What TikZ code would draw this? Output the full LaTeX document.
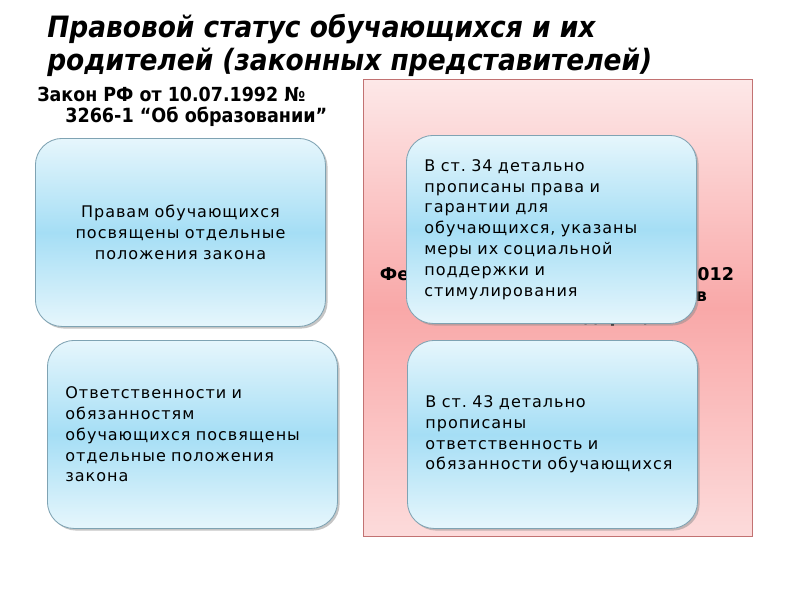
\documentclass[tikz,border=0pt]{standalone}
\usepackage{fontspec}
\setmainfont{DejaVu Sans}
\newfontfamily\condfont{DejaVu Sans Condensed}
\newfontfamily\boxfont{DejaVu Sans}[LetterSpace=6]
\usetikzlibrary{shadows}

\definecolor{boxlight}{HTML}{E6F6FC}
\definecolor{boxmid}{HTML}{A5DEF5}
\definecolor{boxline}{HTML}{7FA3B3}
\definecolor{pinklight}{HTML}{FDE8E8}
\definecolor{pinkmid}{HTML}{F9A8A8}
\definecolor{pinkline}{HTML}{C27272}

\tikzset{
  infobox/.style={anchor=north west, rounded corners=19pt, draw=boxline, line width=0.6pt,
    top color=boxlight, bottom color=boxlight, middle color=boxmid,
    drop shadow={shadow xshift=1.5pt, shadow yshift=-1.5pt, fill=black!45},
    minimum width=7.25cm, minimum height=4.7cm, inner xsep=0.45cm,
    text width=6.35cm, font=\boxfont\fontsize{11.4}{14.8}\selectfont},
  lawbox/.style={anchor=north west, draw=pinkline, line width=0.6pt,
    top color=pinklight, bottom color=pinklight!80!pinkmid, middle color=pinkmid,
    minimum width=9.725cm, minimum height=11.425cm, inner sep=0pt}
}

\begin{document}
\frenchspacing
\begin{tikzpicture}[x=0.025cm, y=-0.025cm]
    \useasboundingbox[fill=white] (0,0) rectangle (800,600);

    \node [anchor=north west, inner sep=0pt, align=left,
           font=\condfont\bfseries\itshape\fontsize{20.9}{23.4}\selectfont] (title) at (47,14)
          {Правовой статус обучающихся и их\\родителей (законных представителей)};

    \node [anchor=north west, inner sep=0pt,
           font=\condfont\bfseries\fontsize{13.8}{14.2}\selectfont] (oldlaw) at (37,87)
          {Закон РФ от 10.07.1992 №};
    \node [anchor=north west, inner sep=0pt,
           font=\condfont\bfseries\fontsize{13.9}{14.2}\selectfont] (oldlawb) at (65,107)
          {3266-1 “Об образовании”};

    \node [lawbox] (newlaw) at (363,79) {};
    \node [align=center, inner sep=0pt, font=\bfseries\fontsize{12.5}{15}\selectfont] (newlawtext) at (557,297)
          {Федеральный закон от 29.12.2012\\№ 273-ФЗ «Об образовании в\\Российской Федерации»};

    \node [infobox, align=center] (rights) at (35,138)
          {Правам обучающихся\\посвящены отдельные\\положения закона};
    \node [infobox, align=left] (duties) at (47,340)
          {Ответственности и\\обязанностям\\обучающихся посвящены\\отдельные положения\\закона};
    \node [infobox, align=left] (art34) at (406,135)
          {В ст. 34 детально\\прописаны права и\\гарантии для\\обучающихся, указаны\\меры их социальной\\поддержки и\\стимулирования};
    \node [infobox, align=left] (art43) at (407,340)
          {В ст. 43 детально\\прописаны\\ответственность и\\обязанности обучающихся};
\end{tikzpicture}
\end{document}
